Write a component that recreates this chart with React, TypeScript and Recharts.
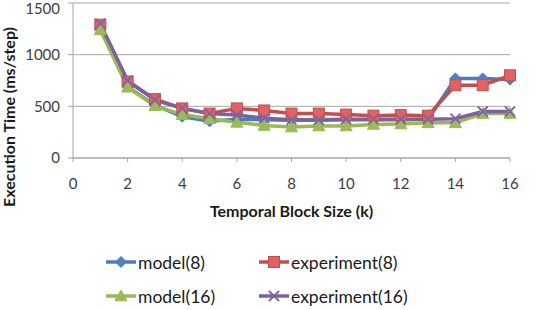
import React from "react";
import { LineChart, Line, XAxis, YAxis, CartesianGrid, Legend, Label } from "recharts";

const blockSizes = [1, 2, 3, 4, 5, 6, 7, 8, 9, 10, 11, 12, 13, 14, 15, 16];
const model8 = [1260, 690, 510, 400, 355, 375, 370, 365, 365, 370, 370, 370, 375, 770, 770, 760];
const experiment8 = [1290, 740, 570, 480, 430, 480, 460, 430, 430, 420, 410, 415, 410, 705, 705, 800];
const model16 = [1240, 685, 505, 420, 380, 345, 315, 300, 310, 310, 325, 330, 340, 340, 430, 430];
const experiment16 = [1300, 750, 560, 480, 430, 415, 385, 370, 370, 375, 375, 375, 375, 380, 450, 450];

const xTicks = [0, 2, 4, 6, 8, 10, 12, 14, 16];
const yTicks = [0, 500, 1000, 1500];

const FONT = "Lato, 'Open Sans', sans-serif";

const series = [
  { key: "model8", name: "model(8)", stroke: "#4a7ebb", fill: "#4f81bd", shape: "diamond" },
  { key: "experiment8", name: "experiment(8)", stroke: "#c0504d", fill: "#e36161", shape: "square" },
  { key: "model16", name: "model(16)", stroke: "#98b954", fill: "#9bbb59", shape: "triangle" },
  { key: "experiment16", name: "experiment(16)", stroke: "#7d60a0", fill: "#8064a2", shape: "cross" },
];

const data = blockSizes.map((k, i) => ({
  k,
  model8: model8[i],
  experiment8: experiment8[i],
  model16: model16[i],
  experiment16: experiment16[i],
}));

function Marker({ cx, cy, shape, fill, stroke }: any) {
  if (cx == null || cy == null) return null;
  if (shape === "diamond") {
    const s = 5.5;
    return (
      <path
        d={`M${cx},${cy - s} L${cx + s},${cy} L${cx},${cy + s} L${cx - s},${cy} Z`}
        fill={fill}
        stroke={stroke}
        strokeWidth={1}
      />
    );
  }
  if (shape === "square") {
    const s = 5.5;
    return <rect x={cx - s} y={cy - s} width={s * 2} height={s * 2} fill={fill} stroke={stroke} strokeWidth={1} />;
  }
  if (shape === "triangle") {
    const s = 6;
    return (
      <path
        d={`M${cx},${cy - s} L${cx + s},${cy + s * 0.8} L${cx - s},${cy + s * 0.8} Z`}
        fill={fill}
        stroke={stroke}
        strokeWidth={1}
      />
    );
  }
  const s = 5;
  return (
    <path
      d={`M${cx - s},${cy - s} L${cx + s},${cy + s} M${cx - s},${cy + s} L${cx + s},${cy - s}`}
      stroke={fill}
      strokeWidth={1.8}
      fill="none"
    />
  );
}

function LegendIcon({ s }: any) {
  return (
    <svg width={32} height={14} style={{ display: "block" }}>
      <line x1={1} y1={7} x2={31} y2={7} stroke={s.stroke} strokeWidth={3.5} />
      <Marker cx={16} cy={7} shape={s.shape} fill={s.fill} stroke={s.stroke} />
    </svg>
  );
}

function ChartLegend() {
  return (
    <div style={{ height: 82, position: "relative", fontFamily: FONT, fontSize: 17.5, color: "#1a1a1a" }}>
      <div
        style={{
          position: "absolute",
          left: 105,
          top: 23,
          display: "grid",
          gridTemplateColumns: "153px auto",
          rowGap: 12,
        }}
      >
        {series.map((s) => (
          <div key={s.key} style={{ display: "flex", alignItems: "center", height: 22 }}>
            <LegendIcon s={s} />
            <span style={{ marginLeft: 1 }}>{s.name}</span>
          </div>
        ))}
      </div>
    </div>
  );
}

export default function App() {
  return (
    <div style={{ position: "absolute", left: 0, top: 0, width: 555, height: 310, background: "#fff" }}>
      <LineChart width={555} height={310} data={data} margin={{ top: 3, right: 45, bottom: 0, left: 0 }}>
        <CartesianGrid horizontal vertical={false} stroke="#a6a6a6" strokeWidth={1} />
        <XAxis
          dataKey="k"
          type="number"
          domain={[0, 16]}
          ticks={xTicks}
          height={70}
          stroke="#a6a6a6"
          tickSize={4}
          tick={{ fontSize: 15, fill: "#404040", fontFamily: FONT }}
          tickMargin={16}
        >
          <Label
            content={({ viewBox }: any) => (
              <text
                x={viewBox.x + viewBox.width / 2}
                y={viewBox.y + 59}
                textAnchor="middle"
                fontFamily={FONT}
                fontWeight="bold"
                fontSize={16}
                fill="#1a1a1a"
              >
                Temporal Block Size (k)
              </text>
            )}
          />
        </XAxis>
        <YAxis
          type="number"
          domain={[0, 1500]}
          ticks={yTicks}
          width={73}
          stroke="#a6a6a6"
          tickSize={5}
          tick={{ fontSize: 15, fill: "#404040", fontFamily: FONT }}
          tickMargin={8}
        >
          <Label
            content={() => (
              <text
                x={15}
                y={117}
                transform="rotate(-90 15 117)"
                textAnchor="middle"
                fontFamily={FONT}
                fontWeight="bold"
                fontSize={16}
                fill="#1a1a1a"
              >
                Execution Time (ms/step)
              </text>
            )}
          />
        </YAxis>
        <Legend verticalAlign="bottom" content={() => <ChartLegend />} />
        {series.map((s) => (
          <Line
            key={s.key}
            dataKey={s.key}
            name={s.name}
            type="linear"
            stroke={s.stroke}
            strokeWidth={3.5}
            isAnimationActive={false}
            dot={(p: any) => <Marker key={`${s.key}-${p.index}`} cx={p.cx} cy={p.cy} shape={s.shape} fill={s.fill} stroke={s.stroke} />}
            activeDot={false}
          />
        ))}
      </LineChart>
    </div>
  );
}
